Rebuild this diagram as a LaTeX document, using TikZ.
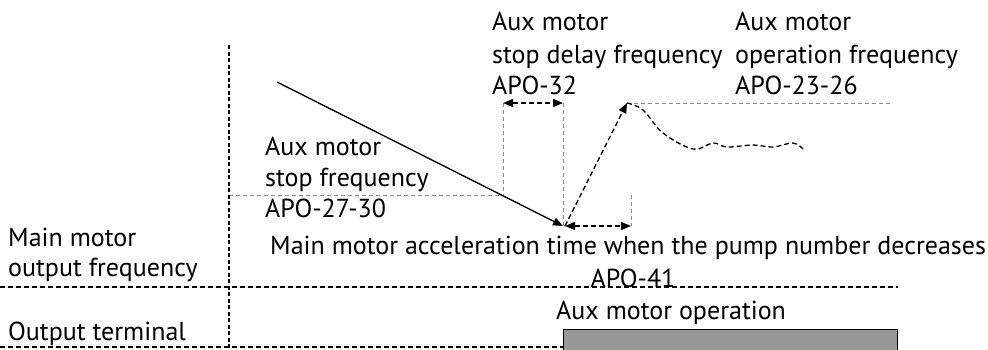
\documentclass[tikz,border=0pt]{standalone}
\usepackage{fontspec}
\setmainfont{PT Sans}
\usetikzlibrary{arrows.meta}
\begin{document}
\begin{tikzpicture}[x=1pt,y=-1pt,
  lbl/.style={anchor=base west, inner sep=0pt, font=\fontsize{26}{30}\selectfont},
  axisline/.style={black, line width=1.5pt, dash pattern=on 5pt off 3pt},
  vaxisline/.style={black, line width=1.5pt, dash pattern=on 4pt off 2.5pt},
  guide/.style={black!45, line width=1pt, dash pattern=on 4pt off 3pt},
  curve/.style={black, line width=1.3pt, dash pattern=on 5pt off 3pt},
  tip/.style={-{Triangle[length=10pt,width=8pt]}},
  dtip/.style={{Triangle[length=10pt,width=8pt]}-{Triangle[length=10pt,width=8pt]}}]
\useasboundingbox (0,0) rectangle (988,349);
% coordinates
\coordinate (vtop) at (229,45);
\coordinate (vbot) at (229,352);
\coordinate (h1l) at (0,287);
\coordinate (h1r) at (898,287);
\coordinate (h2l) at (0,347);
\coordinate (start) at (277,82);
\coordinate (low) at (563,226);
\coordinate (lowr) at (565,226);
\coordinate (peak) at (627,103);
\coordinate (g1a) at (229,195);
\coordinate (g1b) at (500,195);
\coordinate (d1) at (503,103);
\coordinate (d1b) at (503,195);
\coordinate (d2) at (563,103);
\coordinate (d2b) at (563,226);
\coordinate (pk2) at (890,103);
\coordinate (acc) at (631,226);
\coordinate (acct) at (631,195);
% gray guides
\draw[guide] (g1a) -- (g1b);
\draw[guide] (d1) -- (d1b);
\draw[guide] (d2) -- (d2b);
\draw[guide] (peak) -- (pk2);
\draw[guide] (acct) -- (acc);
% axes
\draw[vaxisline] (vtop) -- (vbot);
\draw[axisline] (h1l) -- (h1r);
% output box
\node[draw=black, line width=0.9pt, fill=black!40, minimum width=334pt, minimum height=24pt, inner sep=0pt, anchor=north west] (box) at (563,329) {};
\draw[axisline] (h2l) -- (box.west |- h2l);
% main line
\draw[line width=1.3pt, tip] (start) -- (low);
\draw[curve, tip] (lowr) -- (peak);
\draw[curve, dtip] (d1) -- (d2);
\draw[curve, dtip] (lowr) -- (acc);
\draw[curve] plot[smooth, tension=0.6] coordinates {(627,103) (643,110) (663,133) (693,149) (713,143) (727,147) (753,145) (773,147) (793,143) (803,149)};
% labels
\node[lbl] (t1a) at (492,30) {Aux motor};
\node[lbl] (t1b) at (492,63) {stop delay frequency};
\node[lbl] (t1c) at (492,94) {APO-32};
\node[lbl] (t2a) at (735,30) {Aux motor};
\node[lbl] (t2b) at (735,63) {operation frequency};
\node[lbl] (t2c) at (735,94) {APO-23-26};
\node[lbl] (t3a) at (265,155) {Aux motor};
\node[lbl] (t3b) at (265,186) {stop frequency};
\node[lbl] (t3c) at (265,217) {APO-27-30};
\node[lbl] (m1) at (8,246) {Main motor};
\node[lbl] (m2) at (8,276) {output frequency};
\node[lbl] (acclbl) at (270,254) {Main motor acceleration time when the pump number decreases};
\node[lbl, anchor=base] (apo41) at (633,287) {APO-41};
\node[lbl] (auxop) at (556,319) {Aux motor operation};
\node[lbl] (outt) at (8,340) {Output terminal};
\end{tikzpicture}
\end{document}
